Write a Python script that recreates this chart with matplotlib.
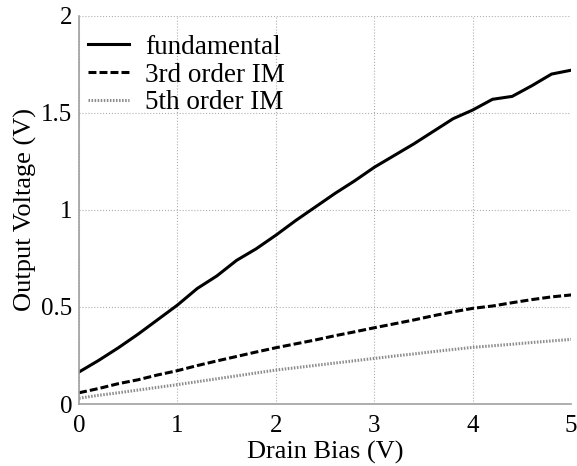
import matplotlib
matplotlib.use("Agg")
import matplotlib.pyplot as plt

plt.rcParams["font.family"] = ["Liberation Serif", "DejaVu Serif"]

# drain bias sweep (V)
bias = [0.0, 0.2, 0.4, 0.6, 0.8, 1.0, 1.2, 1.4, 1.6, 1.8, 2.0, 2.2, 2.4,
        2.6, 2.8, 3.0, 3.2, 3.4, 3.6, 3.8, 4.0, 4.2, 4.4, 4.6, 4.8, 5.0]

# output voltage (V) of each tone
fundamental = [0.165, 0.225, 0.29, 0.36, 0.435, 0.51, 0.595, 0.66, 0.74, 0.80,
               0.87, 0.945, 1.015, 1.085, 1.15, 1.22, 1.28, 1.34, 1.405, 1.47,
               1.515, 1.57, 1.585, 1.64, 1.70, 1.72]
im3 = [0.058, 0.08, 0.105, 0.125, 0.15, 0.172, 0.198, 0.222, 0.245, 0.268,
       0.29, 0.31, 0.33, 0.352, 0.372, 0.393, 0.413, 0.433, 0.455, 0.475,
       0.493, 0.505, 0.522, 0.538, 0.552, 0.562]
im5 = [0.03, 0.045, 0.058, 0.072, 0.086, 0.10, 0.115, 0.13, 0.145, 0.16,
       0.175, 0.187, 0.199, 0.211, 0.223, 0.235, 0.247, 0.258, 0.27, 0.281,
       0.292, 0.30, 0.308, 0.317, 0.325, 0.333]

labels = ["fundamental", "3rd order IM", "5th order IM"]

fig, ax = plt.subplots(figsize=(5.77, 4.66), dpi=100)
fig.subplots_adjust(left=0.137, right=0.99, top=0.966, bottom=0.133)

ax.plot(bias, fundamental, color="black", lw=2.2, ls="-", label=labels[0])
ax.plot(bias, im3, color="black", lw=2.2, ls=(0, (2.6, 1.0)), label=labels[1])
ax.plot(bias, im5, color="#8c8c8c", lw=2.2, ls=(0, (0.5, 0.5)), label=labels[2])

ax.set_xlim(0, 5)
ax.set_ylim(0, 2)
ax.set_xticks([0, 1, 2, 3, 4, 5])
ax.set_yticks([0, 0.5, 1, 1.5, 2])
ax.set_yticklabels(["0", "0.5", "1", "1.5", "2"])
ax.tick_params(labelsize=18, length=0)
ax.tick_params(axis="x", pad=8)
ax.tick_params(axis="y", pad=5)
ax.grid(True, color="#b0b0b0", ls=":", lw=0.8)

for side in ("top", "right"):
    ax.spines[side].set_visible(False)
for side in ("left", "bottom"):
    ax.spines[side].set_color("#a0a0a0")
    ax.spines[side].set_linewidth(1.2)

ax.set_xlabel("Drain Bias (V)", fontsize=19, labelpad=3)
ax.set_ylabel("Output Voltage (V)", fontsize=19, labelpad=3)

ax.legend(loc="upper left", frameon=False, fontsize=19.5, handlelength=1.5,
          handletextpad=0.6, labelspacing=0.1, borderaxespad=0.3,
          bbox_to_anchor=(-0.02, 1.0))

fig.savefig("out.png", dpi=100)
